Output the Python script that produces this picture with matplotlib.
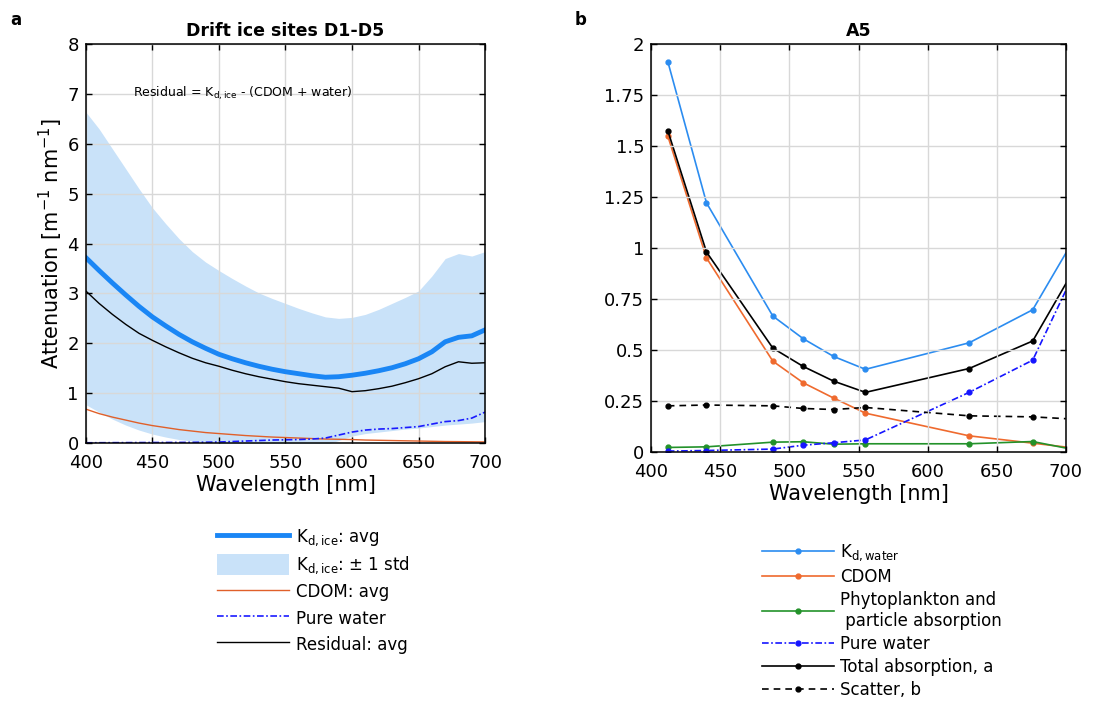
import numpy as np
import matplotlib
matplotlib.use('Agg')
import matplotlib.pyplot as plt

plt.rcParams['font.family'] = 'DejaVu Sans'
plt.rcParams['mathtext.default'] = 'regular'

# ---- panel a: drift ice sites, 10 nm steps ----
wl_a = np.arange(400, 701, 10)
kd_avg = [3.72, 3.46, 3.21, 2.97, 2.74, 2.53, 2.35, 2.18, 2.03, 1.90, 1.78,
          1.69, 1.61, 1.54, 1.48, 1.43, 1.39, 1.35, 1.32, 1.33, 1.36, 1.40,
          1.45, 1.51, 1.59, 1.69, 1.83, 2.03, 2.12, 2.15, 2.27]
kd_upper = [6.64, 6.30, 5.90, 5.50, 5.10, 4.72, 4.40, 4.10, 3.84, 3.63, 3.46,
            3.30, 3.15, 3.01, 2.90, 2.80, 2.70, 2.61, 2.53, 2.50, 2.52, 2.58,
            2.68, 2.80, 2.92, 3.05, 3.35, 3.70, 3.80, 3.75, 3.84]
kd_lower = [0.77, 0.62, 0.48, 0.36, 0.26, 0.18, 0.12, 0.07, 0.04, 0.02, 0.0,
            -0.03, -0.05, -0.05, -0.05, -0.05, -0.05, -0.05, -0.03, 0.05, 0.14,
            0.19, 0.22, 0.25, 0.28, 0.30, 0.33, 0.36, 0.38, 0.40, 0.43]
cdom_a = [0.68, 0.59, 0.52, 0.46, 0.40, 0.35, 0.31, 0.27, 0.24, 0.21, 0.19,
          0.17, 0.15, 0.135, 0.12, 0.11, 0.10, 0.09, 0.08, 0.075, 0.07, 0.06,
          0.055, 0.05, 0.045, 0.04, 0.035, 0.03, 0.028, 0.025, 0.022]
water_a = [0.005, 0.006, 0.007, 0.008, 0.009, 0.01, 0.011, 0.012, 0.014, 0.016,
           0.02, 0.03, 0.04, 0.05, 0.06, 0.065, 0.07, 0.08, 0.10, 0.16, 0.22,
           0.26, 0.28, 0.29, 0.31, 0.33, 0.38, 0.43, 0.45, 0.50, 0.62]
resid_a = [3.05, 2.80, 2.58, 2.38, 2.20, 2.06, 1.93, 1.81, 1.70, 1.61, 1.54,
           1.46, 1.39, 1.33, 1.28, 1.23, 1.19, 1.16, 1.13, 1.10, 1.03,
           1.05, 1.09, 1.14, 1.21, 1.29, 1.39, 1.53, 1.63, 1.60, 1.61]

# ---- panel b: A5 ----
wl_b = [412, 440, 488, 510, 532, 555, 630, 676, 700]
kd_water = [1.915, 1.222, 0.667, 0.556, 0.469, 0.406, 0.536, 0.698, 0.976]
cdom_b = [1.55, 0.952, 0.446, 0.340, 0.265, 0.191, 0.080, 0.044, 0.025]
phyto_b = [0.023, 0.026, 0.049, 0.051, 0.039, 0.041, 0.041, 0.052, 0.020]
water_b = [0.005, 0.008, 0.015, 0.034, 0.046, 0.060, 0.293, 0.451, 0.793]
total_b = [1.576, 0.981, 0.510, 0.420, 0.348, 0.293, 0.410, 0.545, 0.826]
scatter_b = [0.227, 0.231, 0.227, 0.214, 0.209, 0.219, 0.178, 0.173, 0.164]

fig = plt.figure(figsize=(11, 7.01), dpi=100)
ax1 = fig.add_axes([0.078, 0.368, 0.363, 0.569])
ax2 = fig.add_axes([0.592, 0.355, 0.377, 0.582])

dashdot = (0, (4, 1.5, 1, 1.5))

# panel a
ax1.fill_between(wl_a, kd_lower, kd_upper, color='#c9e2f9', lw=0,
                 label=r'K$_{d,ice}$: $\pm$ 1 std', zorder=1)
ax1.plot(wl_a, kd_avg, color='#1a86f5', lw=3.5, label=r'K$_{d,ice}$: avg', zorder=3)
ax1.plot(wl_a, cdom_a, color='#e0602a', lw=1, label='CDOM: avg', zorder=3)
ax1.plot(wl_a, water_a, color='#1a1aff', lw=1.2, ls=dashdot, label='Pure water', zorder=3)
ax1.plot(wl_a, resid_a, color='black', lw=1, label='Residual: avg', zorder=3)
ax1.set_xlim(400, 700)
ax1.set_ylim(0, 8)
ax1.set_xticks(range(400, 701, 50))
ax1.set_yticks(range(0, 9))
ax1.set_xlabel('Wavelength [nm]', fontsize=15, labelpad=2)
ax1.set_ylabel(r'Attenuation [m$^{-1}$ nm$^{-1}$]', fontsize=15, labelpad=2)
ax1.set_title('Drift ice sites D1-D5', fontsize=12.5, fontweight='bold', pad=6)
ax1.text(0.118, 0.877, r'Residual = K$_{d,ice}$ - (CDOM + water)', transform=ax1.transAxes,
         fontsize=9, va='center')

h, lab = ax1.get_legend_handles_labels()
order = [1, 0, 2, 3, 4]
ax1.legend([h[i] for i in order], [lab[i] for i in order], loc='upper left',
           bbox_to_anchor=(0.184, 0.27), bbox_transform=fig.transFigure,
           frameon=False, fontsize=12, handlelength=4.3, handleheight=1.5,
           labelspacing=0.35, handletextpad=0.4)

# panel b
mk = list(range(8))
ax2.plot(wl_b, kd_water, color='#2b8cf0', lw=1.2, marker='o', ms=3.5, markevery=mk,
         label=r'K$_{d,water}$')
ax2.plot(wl_b, cdom_b, color='#ef6a2e', lw=1.2, marker='o', ms=3.5, markevery=mk,
         label='CDOM')
ax2.plot(wl_b, phyto_b, color='#23922a', lw=1.2, marker='o', ms=3.5, markevery=mk,
         label='Phytoplankton and\n particle absorption')
ax2.plot(wl_b, water_b, color='#1515ff', lw=1.2, ls=dashdot, marker='o', ms=3.5,
         markevery=mk, label='Pure water')
ax2.plot(wl_b, total_b, color='black', lw=1.2, marker='o', ms=3.5, markevery=mk,
         label='Total absorption, a')
ax2.plot(wl_b, scatter_b, color='black', lw=1.2, ls=(0, (4, 3)), marker='o', ms=3.5,
         markevery=mk, label='Scatter, b')
ax2.set_xlim(400, 700)
ax2.set_ylim(0, 2)
ax2.set_xticks(range(400, 701, 50))
yt = np.arange(0, 2.01, 0.25)
ax2.set_yticks(yt)
ax2.set_yticklabels([f'{v:g}' for v in yt])
ax2.set_xlabel('Wavelength [nm]', fontsize=15, labelpad=2)
ax2.set_title('A5', fontsize=12.5, fontweight='bold', pad=6)
ax2.legend(loc='upper left', bbox_to_anchor=(0.679, 0.248), bbox_transform=fig.transFigure,
           frameon=False, fontsize=12, handlelength=4.3, labelspacing=0.3,
           handletextpad=0.4, numpoints=1)

for ax in (ax1, ax2):
    ax.grid(True, color='#d8d8d8', lw=1)
    ax.set_axisbelow(False)
    ax.tick_params(direction='in', top=True, right=True, labelsize=13,
                   length=4, width=1)
    ax.tick_params(axis='x', pad=8)
    ax.tick_params(axis='y', pad=5)
    for s in ax.spines.values():
        s.set_linewidth(1.1)
        s.set_zorder(5)

fig.text(0.009, 0.985, 'a', fontsize=12, fontweight='bold', va='top')
fig.text(0.522, 0.985, 'b', fontsize=12, fontweight='bold', va='top')

fig.savefig('out.png', dpi=100)
